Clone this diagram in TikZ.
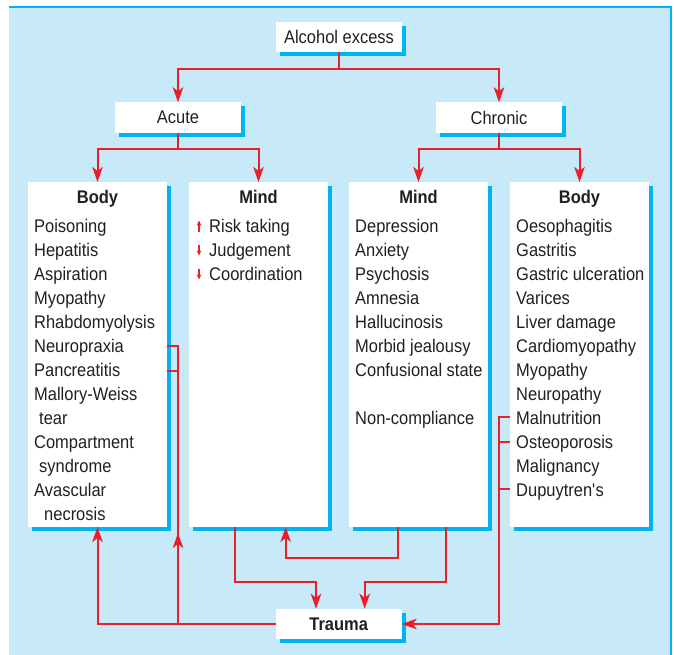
\documentclass[tikz,border=0pt]{standalone}
\usepackage{fontspec}
\setmainfont{Liberation Sans}[FakeStretch=0.9]
\usetikzlibrary{arrows.meta,shadows}
\definecolor{panel}{HTML}{C7E9F8}
\definecolor{shadowc}{HTML}{00B5EF}
\definecolor{redc}{HTML}{E8202A}
\definecolor{txt}{HTML}{231F20}
\newcommand{\fs}{\fontsize{18.3}{24}\selectfont}
\begin{document}
\begin{tikzpicture}[x=1pt,y=-1pt,
  box/.style={fill=white, inner sep=0pt, outer sep=0pt, text=txt,
    drop shadow={shadow xshift=4pt, shadow yshift=-4pt, fill=shadowc, opacity=1}},
  smallbox/.style={box, minimum width=126pt, minimum height=30.5pt, font=\fs},
  big/.style={box, minimum width=139pt, minimum height=345pt},
  item/.style={anchor=base west, inner sep=0pt, font=\fs, text=txt},
  hdr/.style={anchor=base, inner sep=0pt, font=\fs\bfseries, text=txt},
  link/.style={draw=redc, line width=2pt},
  tip/.style={-{Stealth[length=15pt,width=10.5pt,inset=4pt]}},
  upd/.style={draw=redc, line width=1.1pt, -{Stealth[length=5pt,width=4.5pt,inset=1pt]}}]
\useasboundingbox (0,0) rectangle (674,655);
\fill[panel] (9,7) rectangle (671,655);
\draw[shadowc, line width=1.2pt] (9,7) -- (671,7) -- (671,655);

% top boxes
\node[smallbox] (alc) at (339,37) {Alcohol excess};
\node[smallbox] (acute) at (178,117.5) {Acute};
\node[smallbox] (chronic) at (499,117.5) {Chronic};
\node[smallbox, font=\fs\bfseries] (trauma) at (338.7,624) {Trauma};

% big boxes
\node[big] (abody) at (97.5,354.5) {};
\node[big] (amind) at (258.5,354.5) {};
\node[big] (cmind) at (418.5,354.5) {};
\node[big] (cbody) at (579.5,354.5) {};

% headers
\node[hdr] (abh) at (97.5,204) {Body};
\node[hdr] (amh) at (258.5,204) {Mind};
\node[hdr] (cmh) at (418.5,204) {Mind};
\node[hdr] (cbh) at (579.5,204) {Body};

% acute body items
\foreach \t [count=\i] in {Poisoning,Hepatitis,Aspiration,Myopathy,Rhabdomyolysis,Neuropraxia,Pancreatitis,Mallory-Weiss,{\hspace{5pt}tear},Compartment,{\hspace{5pt}syndrome},Avascular,{\hspace{10pt}necrosis}}
  \node[item] (ab\i) at (34,208.4+24*\i) {\t};

% acute mind items
\foreach \t [count=\i] in {Risk taking,Judgement,Coordination}
  \node[item] (am\i) at (209,208.4+24*\i) {\t};
\draw[upd] (199,231.5) -- (199,220.5);
\draw[upd] (199,244.5) -- (199,255.5);
\draw[upd] (199,268.5) -- (199,279.5);

% chronic mind items
\foreach \t [count=\i] in {Depression,Anxiety,Psychosis,Amnesia,Hallucinosis,Morbid jealousy,Confusional state}
  \node[item] (cm\i) at (355,208.4+24*\i) {\t};
\node[item] (cm9) at (355,208.4+24*9) {Non-compliance};

% chronic body items
\foreach \t [count=\i] in {Oesophagitis,Gastritis,Gastric ulceration,Varices,Liver damage,Cardiomyopathy,Myopathy,Neuropathy,Malnutrition,Osteoporosis,Malignancy,{Dupuytren\textquotesingle s}}
  \node[item] (cb\i) at (516,208.4+24*\i) {\t};

% connectors: top tree
\draw[link,tip] (alc.south) -- ++(0,17) -| (acute.north);
\draw[link,tip] (alc.south) -- ++(0,17) -| (chronic.north);
\draw[link,tip] (acute.south) -- ++(0,16) -| (abody.north);
\draw[link,tip] (acute.south) -- ++(0,16) -| (amind.north);
\draw[link,tip] (chronic.south) -- ++(0,16) -| (cmind.north);
\draw[link,tip] (chronic.south) -- ++(0,16) -| (cbody.north);

% trauma to acute body
\coordinate (np) at (167,346);
\coordinate (pc) at (167,370.5);
\coordinate (vx) at (178,624);
\coordinate (vtop) at (178,533);
\coordinate (vpc) at (178,370.5);
\draw[link,tip] (trauma.west) -| (abody.south);
\draw[link] (vx) |- (np);
\draw[link] (vpc) -- (pc);
\draw[link,tip] (vx) -- (vtop);

% minds
\draw[link,tip] ([xshift=-23.5pt]amind.south) -- ++(0,54.7) -| ([xshift=-22.7pt]trauma.north);
\draw[link,tip] ([xshift=-20.2pt]cmind.south) -- ++(0,31.3) -| ([xshift=27.2pt]amind.south);
\draw[link,tip] ([xshift=27.2pt]cmind.south) -- ++(0,54.7) -| ([xshift=26pt]trauma.north);

% chronic body to trauma
\coordinate (mn) at (510,417.3);
\coordinate (mnv) at (499,417.3);
\coordinate (os) at (510,441.7);
\coordinate (osv) at (499,441.7);
\coordinate (du) at (510,489);
\coordinate (duv) at (499,489);
\draw[link,tip] (mn) -- (mnv) |- (trauma.east);
\draw[link] (osv) -- (os);
\draw[link] (duv) -- (du);
\end{tikzpicture}
\end{document}
